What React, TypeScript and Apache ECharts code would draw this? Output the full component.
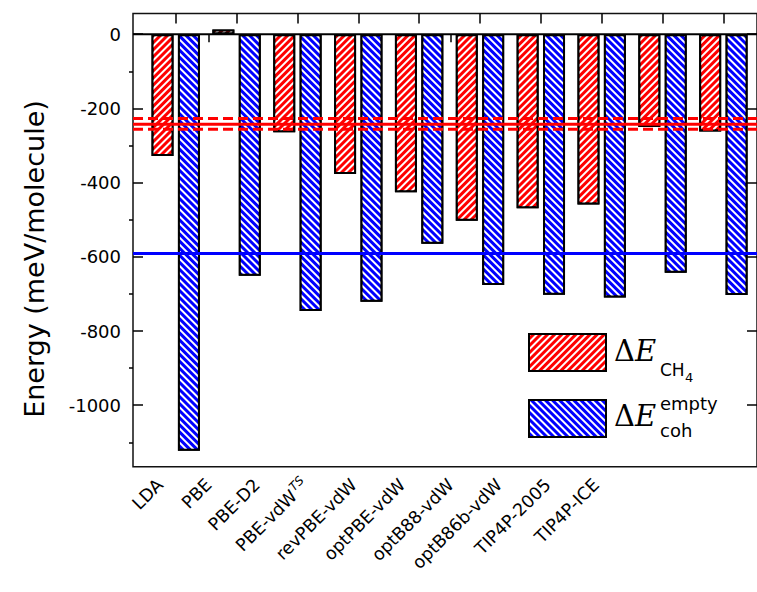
import React, { useEffect, useRef } from 'react';
import * as echarts from 'echarts';

// ---------- data ----------
const categories = ['LDA', 'PBE', 'PBE-D2', 'PBE-vdW^TS', 'revPBE-vdW', 'optPBE-vdW', 'optB88-vdW', 'optB86b-vdW', 'TIP4P-2005', 'TIP4P-ICE'];
const dE_CH4 = [-328, 13, -264, -377, -426, -503, -469, -459, -250, -262];
const dE_coh = [-1123, -651, -746, -721, -565, -676, -702, -710, -643, -703];
const refCH4 = -243;
const refCH4Upper = -227;
const refCH4Lower = -256;
const refCoh = -591;
const yMin = -1166;
const yMax = 56;
const majorTickMin = -1000;
const majorTickMax = 0;
const majorStep = 200;
const minorTickMin = -1100;
const minorTickMax = -100;

// ---------- layout ----------
const W = 757;
const H = 592;
const Y0 = 34.2; // pixel of value 0
const K = 0.371; // px per unit
const FT = Y0 - yMax * K;
const FH = (yMax - yMin) * K;

const RED = '#ff0000';
const BLUE = '#0000ff';
const FONT = 'DejaVu Sans';

export default function App() {
  const ref = useRef<HTMLDivElement>(null);
  useEffect(() => {
    if (!ref.current) return;
    const chart = echarts.init(ref.current, undefined, { renderer: 'svg' });
    const hLine = (v: number, color: string, width: number, type: any) => ({
      type: 'line',
      xAxisIndex: 0,
      yAxisIndex: 0,
      data: [[0, v], [1, v]],
      symbol: 'none',
      silent: true,
      z: 5,
      lineStyle: { color, width, type },
    });
    const tickStyle = { color: '#000', width: 1.5 };
    const option: any = {
      animation: false,
      backgroundColor: '#fff',
      grid: [
        { left: 133, top: FT, width: 632, height: FH, show: true, borderColor: '#111', borderWidth: 1.5, backgroundColor: 'transparent' },
        { left: 145.3, top: FT, width: 608.5, height: FH },
        { left: 135.8, top: FT, width: 484.4, height: FH },
        { left: 133, top: Y0 - majorTickMax * K, width: 632, height: (majorTickMax - majorTickMin) * K },
        { left: 133, top: Y0 - minorTickMax * K, width: 632, height: (minorTickMax - minorTickMin) * K },
      ],
      xAxis: [
        { gridIndex: 0, type: 'value', min: 0, max: 1, show: false },
        { gridIndex: 1, type: 'category', data: categories, show: false },
        {
          gridIndex: 1, type: 'category', data: categories, position: 'top',
          axisLine: { show: false },
          axisLabel: { show: false, interval: 0 },
          axisTick: { show: true, inside: true, length: 10, alignWithLabel: true, interval: 0, lineStyle: tickStyle },
          splitLine: { show: false },
        },
        {
          gridIndex: 2, type: 'category', data: categories, position: 'bottom',
          axisLine: { show: false },
          axisTick: { show: true, length: 8, alignWithLabel: true, interval: 0, lineStyle: tickStyle },
          axisLabel: {
            interval: 0, rotate: 45, margin: 15, fontSize: 17.5, fontFamily: FONT, color: '#000',
            formatter: (v: string) => {
              const parts = v.split('^');
              return parts.length > 1 ? `{n|${parts[0]}}{sup|${parts[1]}}` : `{n|${v}}`;
            },
            rich: {
              n: { fontSize: 17.5, fontFamily: FONT, color: '#000' },
              sup: { fontSize: 12, fontStyle: 'italic', fontFamily: FONT, color: '#000', verticalAlign: 'top', padding: [0, 0, 10, 1] },
            },
          },
          splitLine: { show: false },
        },
        { gridIndex: 3, type: 'value', show: false },
        { gridIndex: 4, type: 'value', show: false },
      ],
      yAxis: [
        { gridIndex: 0, type: 'value', min: yMin, max: yMax, show: false },
        { gridIndex: 1, type: 'value', min: yMin, max: yMax, show: false },
        { gridIndex: 2, type: 'value', min: yMin, max: yMax, show: false },
        {
          gridIndex: 3, type: 'value', min: majorTickMin, max: majorTickMax, interval: majorStep, position: 'left',
          axisLine: { show: false },
          axisTick: { show: true, inside: true, length: 10, lineStyle: tickStyle },
          axisLabel: { fontSize: 18, fontFamily: FONT, color: '#000', margin: 12, formatter: (v: number) => String(v) },
          splitLine: { show: false },
        },
        {
          gridIndex: 3, type: 'value', min: majorTickMin, max: majorTickMax, interval: majorStep, position: 'right',
          axisLine: { show: false },
          axisTick: { show: true, inside: true, length: 10, lineStyle: tickStyle },
          axisLabel: { show: false },
          splitLine: { show: false },
        },
        {
          gridIndex: 4, type: 'value', min: minorTickMin, max: minorTickMax, interval: majorStep, position: 'left',
          axisLine: { show: false },
          axisTick: { show: true, inside: false, length: 4, lineStyle: tickStyle },
          axisLabel: { show: false },
          splitLine: { show: false },
        },
      ],
      legend: {
        data: ['CH4', 'coh'],
        orient: 'vertical',
        left: 528,
        top: 333,
        padding: 0,
        itemWidth: 77,
        itemHeight: 37,
        itemGap: 27,
        icon: 'rect',
        selectedMode: false,
        formatter: () => '',
        itemStyle: { borderColor: '#000', borderWidth: 2 },
      },
      series: [
        {
          name: 'CH4', type: 'bar', xAxisIndex: 1, yAxisIndex: 1, data: dE_CH4,
          barWidth: 22, barGap: '20%',
          itemStyle: {
            color: RED, borderColor: '#000', borderWidth: 2,
            decal: { symbol: 'rect', symbolSize: 1, color: '#fff', dashArrayX: [1, 0], dashArrayY: [2, 2.4], rotation: -Math.PI / 4 },
          },
        },
        {
          name: 'coh', type: 'bar', xAxisIndex: 1, yAxisIndex: 1, data: dE_coh,
          barWidth: 22, barGap: '20%',
          itemStyle: {
            color: BLUE, borderColor: '#000', borderWidth: 2,
            decal: { symbol: 'rect', symbolSize: 1, color: '#fff', dashArrayX: [1, 0], dashArrayY: [2, 2.4], rotation: Math.PI / 4 },
          },
        },
        hLine(0, '#000', 2, 'solid'),
        hLine(refCH4Upper, RED, 3, [10, 5]),
        hLine(refCH4Lower, RED, 3, [10, 5]),
        hLine(refCH4, RED, 3, 'solid'),
        hLine(refCoh, BLUE, 3, 'solid'),
      ],
      graphic: [
        {
          type: 'text', x: 34, y: 259, rotation: Math.PI / 2,
          style: { text: 'Energy (meV/molecule)', fontSize: 27, fontFamily: FONT, fill: '#000', align: 'center', verticalAlign: 'middle' },
        },
        {
          type: 'text', x: 614, y: 351,
          style: {
            text: '{d|Δ}{e|E}', verticalAlign: 'middle', align: 'left',
            rich: {
              d: { fontSize: 29, fontFamily: 'DejaVu Serif', fill: '#000' },
              e: { fontSize: 29, fontFamily: 'DejaVu Serif', fontStyle: 'italic', fill: '#000' },
            },
          },
        },
        { type: 'text', x: 660, y: 370, style: { text: 'CH', fontSize: 17, fontFamily: FONT, fill: '#000', verticalAlign: 'middle' } },
        { type: 'text', x: 685, y: 377, style: { text: '4', fontSize: 13, fontFamily: FONT, fill: '#000', verticalAlign: 'middle' } },
        {
          type: 'text', x: 614, y: 416,
          style: {
            text: '{d|Δ}{e|E}', verticalAlign: 'middle', align: 'left',
            rich: {
              d: { fontSize: 29, fontFamily: 'DejaVu Serif', fill: '#000' },
              e: { fontSize: 29, fontFamily: 'DejaVu Serif', fontStyle: 'italic', fill: '#000' },
            },
          },
        },
        { type: 'text', x: 660, y: 403, style: { text: 'empty', fontSize: 18, fontFamily: FONT, fill: '#000', verticalAlign: 'middle' } },
        { type: 'text', x: 660, y: 430, style: { text: 'coh', fontSize: 18, fontFamily: FONT, fill: '#000', verticalAlign: 'middle' } },
      ],
    };
    chart.setOption(option);
    return () => chart.dispose();
  }, []);
  return <div ref={ref} style={{ position: 'fixed', left: 0, top: 0, width: W, height: H }} />;
}
